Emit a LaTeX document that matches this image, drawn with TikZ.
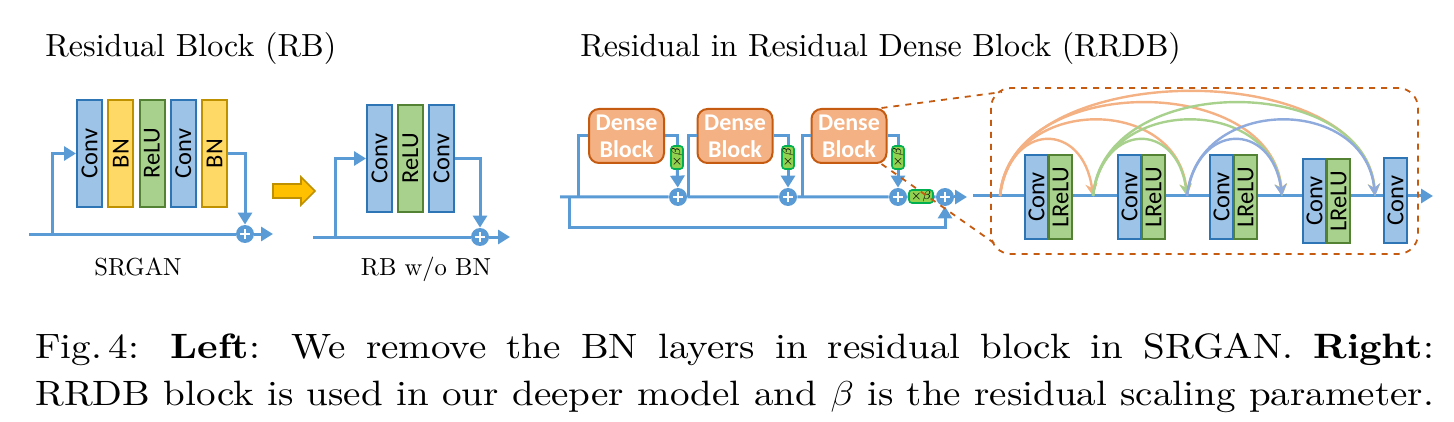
\documentclass[tikz,border=0pt]{standalone}
\usepackage{fontspec}
\usepackage{graphicx}
\usetikzlibrary{arrows.meta}
\setmainfont{lmroman10-regular.otf}[BoldFont=lmroman10-bold.otf, ItalicFont=lmroman10-italic.otf]
\newfontfamily\blockfont{Carlito}
\definecolor{convfill}{HTML}{9DC3E6}
\definecolor{convline}{HTML}{2E75B6}
\definecolor{bnfill}{HTML}{FFD966}
\definecolor{bnline}{HTML}{BF9000}
\definecolor{relufill}{HTML}{A9D18E}
\definecolor{reluline}{HTML}{548235}
\definecolor{flowblue}{HTML}{5B9BD5}
\definecolor{densefill}{HTML}{F4B183}
\definecolor{denseline}{HTML}{C55A11}
\definecolor{betafill}{HTML}{92D050}
\definecolor{betaline}{HTML}{00B050}
\definecolor{arcorange}{HTML}{F4B183}
\definecolor{arcgreen}{HTML}{A9D18E}
\definecolor{arcblue}{HTML}{8FAADC}
\definecolor{bigarrow}{HTML}{FFC000}
\tikzset{
  layer/.style={rotate=90, draw, line width=1pt, inner sep=0pt,
    font=\blockfont\fontsize{12.2}{12.5}\selectfont},
  rbsize/.style={minimum width=53.5pt, minimum height=12.5pt},
  ddsize/.style={minimum width=42pt, minimum height=11.5pt},
  conv/.style={layer, fill=convfill, draw=convline},
  bn/.style={layer, fill=bnfill, draw=bnline},
  relu/.style={layer, fill=relufill, draw=reluline},
  flow/.style={draw=flowblue, line width=1.5pt},
  flowtip/.style={flow, -{Triangle[length=6pt, width=7pt]}},
  addnode/.style={circle, fill=flowblue, minimum size=9pt, inner sep=0pt,
    path picture={\draw[white, line width=0.9pt]
      ([xshift=-2.6pt]path picture bounding box.center) -- ([xshift=2.6pt]path picture bounding box.center)
      ([yshift=-2.6pt]path picture bounding box.center) -- ([yshift=2.6pt]path picture bounding box.center);}},
  betabox/.style={draw=betaline, fill=betafill, line width=0.8pt, rounded corners=1.5pt,
    inner sep=0pt, font=\fontsize{6}{6.5}\selectfont},
  denseblock/.style={draw=denseline, fill=densefill, line width=1pt, rounded corners=5pt,
    minimum width=37.5pt, minimum height=27pt, inner sep=0pt, align=center, text=white,
    font=\blockfont\bfseries\fontsize{12}{13.5}\selectfont},
  densearc/.style={line width=1.2pt, -{Stealth[length=6pt, width=6pt]}},
  zoomline/.style={draw=denseline, dashed, line width=0.9pt},
  headtext/.style={anchor=base west, inner sep=0pt, font=\fontsize{16}{19}\selectfont},
  labeltext/.style={anchor=base, inner sep=0pt, font=\fontsize{12.3}{15}\selectfont},
  captext/.style={anchor=base west, inner sep=0pt, font=\fontsize{17.6}{20}\selectfont}
}
\begin{document}
\begin{tikzpicture}[x=0.5pt,y=-0.5pt]
\useasboundingbox (0,0) rectangle (1454,422);
\node[headtext] (rbtitle) at (45,57) {Residual Block (RB)};
\node[headtext] (rrdbtitle) at (580,57) {Residual in Residual Dense Block (RRDB)};

% SRGAN block
\foreach \lbl/\sty [count=\i from 0] in {Conv/conv,BN/bn,ReLU/relu,Conv/conv,BN/bn}
  \node[\sty, rbsize] (s\i) at ({89.5+31.25*\i},153.5) {\lbl};
\coordinate (sin) at (29,234);
\coordinate (sfork) at (52,234);
\node[addnode] (sadd) at (245,234) {};
\coordinate (sout) at (273,234);
\draw[flow] (sin) -- (sadd);
\draw[flowtip] (sadd) -- (sout);
\draw[flowtip] (sfork) |- (s0);
\draw[flowtip] (s4) -| (sadd);
\node[labeltext] (srgan) at (138,275) {SRGAN};

\draw[draw=bnline, fill=bigarrow, line width=0.8pt] (273,184) -- (301,184) -- (301,177)
  -- (315,191) -- (301,205) -- (301,198) -- (273,198) -- cycle;

% RB without BN
\foreach \lbl/\sty [count=\i from 0] in {Conv/conv,ReLU/relu,Conv/conv}
  \node[\sty, rbsize] (w\i) at ({379.5+31*\i},158.5) {\lbl};
\coordinate (win) at (313,237);
\coordinate (wfork) at (335,237);
\node[addnode] (wadd) at (480,237) {};
\coordinate (wout) at (510,237);
\draw[flow] (win) -- (wadd);
\draw[flowtip] (wadd) -- (wout);
\draw[flowtip] (wfork) |- (w0);
\draw[flowtip] (w2) -| (wadd);
\node[labeltext] (rbnobn) at (426,275) {RB w/o BN};

% RRDB
\foreach \i/\x in {1/678,2/788,3/898,4/945}
  \node[addnode] (r\i) at (\x,197) {};
\node[betabox, minimum width=12pt, minimum height=6.5pt] (bh) at (921,196.5) {$\times\beta$};
\coordinate (rin) at (560,197);
\coordinate (rloop) at (569,197);
\coordinate (rlow) at (569,227);
\coordinate (rout) at (967,197);
\draw[flow] (rin) -- (r1) -- (r2) -- (r3) -- (bh) -- (r4);
\draw[flowtip] (r4) -- (rout);
\draw[flowtip] (rloop) -- (rlow) -| (r4);
\foreach \i/\x/\fx/\bx in {1/626.5/578/677, 2/735/688/788, 3/849/802/898} {
  \node[denseblock] (d\i) at (\x,136) {Dense\\Block};
  \node[betabox, rotate=90, minimum width=11.5pt, minimum height=6pt] (b\i) at (\bx,157.5) {$\times\beta$};
  \coordinate (f\i) at (\fx,197);
  \draw[flow] (f\i) |- (d\i);
  \draw[flow] (d\i) -| (b\i);
  \draw[flowtip] (b\i) -- (r\i);
}

% dense block inside
\coordinate (din) at (973,196);
\coordinate (dout) at (1433,196);
\draw[flowtip] (din) -- (dout);
\foreach \i/\x/\y in {1/1036.5/197, 2/1129.5/197, 3/1221.5/197, 4/1314.5/201} {
  \node[conv, ddsize] (c\i) at (\x,\y) {Conv};
  \node[relu, ddsize] (l\i) at ({\x+24},\y) {LReLU};
}
\node[conv, ddsize] (c5) at (1395.5,200.5) {Conv};
\foreach \i/\x in {0/1000,1/1093,2/1187,3/1282,4/1375}
  \coordinate (p\i) at (\x,196);
\foreach \s/\t/\h/\col in {0/1/75/arcorange, 0/2/101/arcorange, 0/3/124/arcorange, 0/4/139/arcorange,
    1/2/75/arcgreen, 1/3/101/arcgreen, 1/4/124/arcgreen, 2/3/75/arcblue, 2/4/101/arcblue}
  \draw[densearc, \col] (p\s) .. controls +(10,-\h) and +(-10,-\h) .. (p\t);

\draw[zoomline, rounded corners=10pt] (991,88) rectangle (1418,254);
\coordinate (ztop) at (1002,92);
\coordinate (zbot) at (994,243);
\draw[zoomline] ([xshift=-3pt]d3.north east) -- (ztop);
\draw[zoomline] ([xshift=-3pt]d3.south east) -- (zbot);

\node[captext] (cap1) at (35,358) {\scalebox{1.11}[1]{\makebox[630pt][s]{Fig.\,4: \textbf{Left}: We remove the BN layers in residual block in SRGAN. \textbf{Right}:}}};
\node[captext] (cap2) at (35,405) {\scalebox{1.11}[1]{\makebox[630pt][s]{RRDB block is used in our deeper model and $\beta$ is the residual scaling parameter.}}};
\end{tikzpicture}
\end{document}
